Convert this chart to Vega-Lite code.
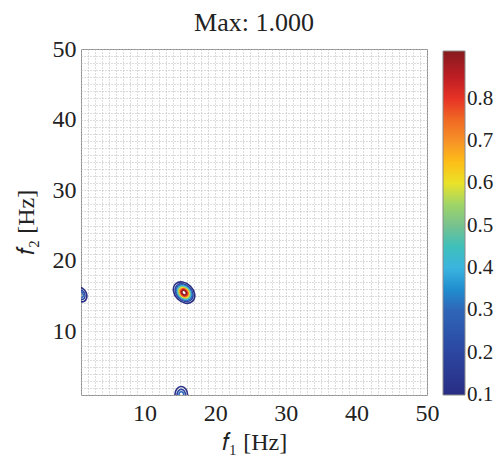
{
  "$schema": "https://vega.github.io/schema/vega-lite/v6.json",
  "width": 346,
  "height": 346,
  "autosize": {"type": "none"},
  "padding": {"left": 81, "top": 49, "right": 69, "bottom": 67},
  "background": "white",
  "title": {"text": "Max: 1.000", "font": "Liberation Serif", "fontSize": 26, "fontWeight": "normal", "color": "#222222", "offset": 1, "anchor": "middle"},
  "config": {
    "view": {"stroke": "#8a8a8a", "strokeWidth": 1},
    "axis": {
      "grid": true,
      "gridColor": "#b8b8b8",
      "gridDash": [1, 2],
      "gridWidth": 1,
      "ticks": false,
      "domain": false,
      "labelFont": "Liberation Serif",
      "labelFontSize": 24,
      "labelColor": "#222222",
      "labelFlush": false,
      "labelOverlap": false,
      "titleFont": "Liberation Serif",
      "titleFontSize": 24,
      "titleFontWeight": "normal",
      "titleColor": "#222222"
    },
    "legend": {
      "orient": "none",
      "legendX": 362,
      "legendY": 2,
      "direction": "vertical",
      "gradientLength": 344,
      "gradientThickness": 22,
      "gradientStrokeColor": "#8a8a8a",
      "gradientStrokeWidth": 1,
      "labelFont": "Liberation Serif",
      "labelFontSize": 21,
      "labelColor": "#222222",
      "labelOffset": 5,
      "labelBaseline": "middle",
      "padding": 0
    }
  },
  "data": {
    "values": [
      {"blob": "main", "f1": 15.6, "f2": 15.5, "level": 0.1, "extent": 3.43},
      {"blob": "main", "f1": 15.6, "f2": 15.5, "level": 0.2, "extent": 2.87},
      {"blob": "main", "f1": 15.6, "f2": 15.5, "level": 0.3, "extent": 2.49},
      {"blob": "main", "f1": 15.6, "f2": 15.5, "level": 0.4, "extent": 2.17},
      {"blob": "main", "f1": 15.6, "f2": 15.5, "level": 0.5, "extent": 1.88},
      {"blob": "main", "f1": 15.6, "f2": 15.5, "level": 0.6, "extent": 1.6},
      {"blob": "main", "f1": 15.6, "f2": 15.5, "level": 0.7, "extent": 1.34},
      {"blob": "main", "f1": 15.6, "f2": 15.5, "level": 0.8, "extent": 1.07},
      {"blob": "main", "f1": 15.6, "f2": 15.5, "level": 0.9, "extent": 0.73},
      {"blob": "left", "f1": 1, "f2": 15.2, "level": 0.1, "extent": 2.1},
      {"blob": "left", "f1": 1, "f2": 15.2, "level": 0.2, "extent": 1.4},
      {"blob": "left", "f1": 1, "f2": 15.2, "level": 0.3, "extent": 0.8},
      {"blob": "bottom", "f1": 15.2, "f2": 1, "level": 0.1, "extent": 2.4},
      {"blob": "bottom", "f1": 15.2, "f2": 1, "level": 0.2, "extent": 1.6},
      {"blob": "bottom", "f1": 15.2, "f2": 1, "level": 0.3, "extent": 0.9}
    ]
  },
  "mark": {
    "type": "point",
    "shape": "M -1 0 A 1 0.75 0 1 0 1 0 A 1 0.75 0 1 0 -1 0 Z",
    "filled": false,
    "strokeWidth": 1.6,
    "opacity": 1,
    "clip": true
  },
  "encoding": {
    "x": {
      "field": "f1",
      "type": "quantitative",
      "scale": {"domain": [1, 50], "nice": false, "zero": false},
      "axis": {
        "title": "𝑓₁  [Hz]",
        "values": [1,2,3,4,5,6,7,8,9,10,11,12,13,14,15,16,17,18,19,20,21,22,23,24,25,26,27,28,29,30,31,32,33,34,35,36,37,38,39,40,41,42,43,44,45,46,47,48,49,50],
        "labelExpr": "datum.value % 10 === 0 ? datum.label : ''",
        "labelPadding": 6,
        "titlePadding": 5
      }
    },
    "y": {
      "field": "f2",
      "type": "quantitative",
      "scale": {"domain": [1, 50], "nice": false, "zero": false},
      "axis": {
        "title": "𝑓₂  [Hz]",
        "values": [1,2,3,4,5,6,7,8,9,10,11,12,13,14,15,16,17,18,19,20,21,22,23,24,25,26,27,28,29,30,31,32,33,34,35,36,37,38,39,40,41,42,43,44,45,46,47,48,49,50],
        "labelExpr": "datum.value % 10 === 0 ? datum.label : ''",
        "labelPadding": 5,
        "titlePadding": 14
      }
    },
    "size": {
      "field": "extent",
      "type": "quantitative",
      "scale": {"type": "pow", "exponent": 2, "domain": [0, 4], "range": [0, 797.4]},
      "legend": null
    },
    "angle": {
      "field": "blob",
      "type": "nominal",
      "scale": {"domain": ["main", "left", "bottom"], "range": [45, 90, 0]},
      "legend": null
    },
    "stroke": {
      "field": "level",
      "type": "quantitative",
      "scale": {
        "domain": [0.0995, 0.2, 0.3, 0.405, 0.507, 0.608, 0.71, 0.811, 0.913],
        "range": ["#292d84", "#2c46a0", "#2f66b8", "#3fb8e0", "#7fc08a", "#f9e31c", "#f58a2a", "#e42127", "#851a1d"]
      },
      "legend": {"title": null, "values": [0.1, 0.2, 0.3, 0.4, 0.5, 0.6, 0.7, 0.8], "format": ".1f"}
    }
  }
}
